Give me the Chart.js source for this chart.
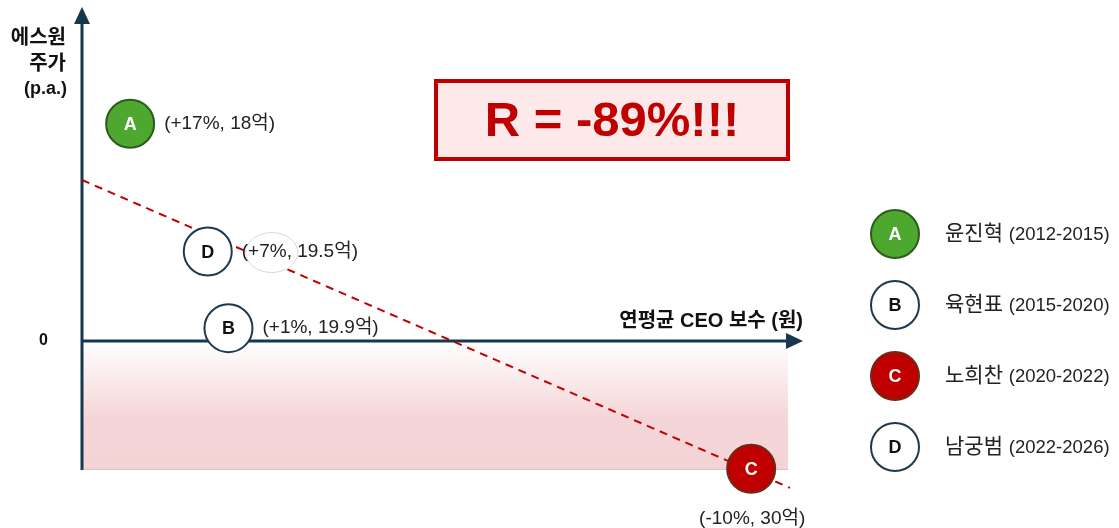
<!DOCTYPE html>
<html>
<head>
<meta charset="utf-8">
<script src="https://cdn.jsdelivr.net/npm/chart.js@4"></script>
<style>
  html, body { margin: 0; padding: 0; background: #fff; }
  #wrap { width: 1119px; height: 528px; }
</style>
</head>
<body>
<div id="wrap"><canvas id="payChart" width="1119" height="528"></canvas></div>
<script>
// CEO pay (억) vs annual stock return (%)
const letters = ["A", "B", "C", "D"];
const ceoNames = ["윤진혁", "육현표", "노희찬", "남궁범"];
const terms = ["(2012-2015)", "(2015-2020)", "(2020-2022)", "(2022-2026)"];
const payValues = [18, 19.9, 30, 19.5];
const returnValues = [17, 1, -10, 7];
const pointLabels = ["(+17%, 18억)", "(+1%, 19.9억)", "(-10%, 30억)", "(+7%, 19.5억)"];
const trendX = [17.07, 30.75];
const trendY = [12.6, -11.5];
const rValue = "R = -89%!!!";

const fillColors = ["#4ea72e", "#ffffff", "#c00000", "#ffffff"];
const edgeColors = ["#2b5c1c", "#1b3a4f", "#6e2a14", "#1b3a4f"];
const letterColors = ["#ffffff", "#111111", "#ffffff", "#111111"];

const NAVY = "#16384d";
const KFONT = "'Liberation Sans', 'Noto Sans CJK KR', sans-serif";

const decor = {
    id: "decor",
    beforeDatasetsDraw(chart) {
        const { ctx, scales: { x, y } } = chart;
        const left = x.getPixelForValue(x.min);
        const zero = y.getPixelForValue(0);
        const bottom = y.getPixelForValue(y.min) - 1;
        const right = x.getPixelForValue(30.71);

        // pink zone below zero
        const grad = ctx.createLinearGradient(0, zero, 0, bottom);
        grad.addColorStop(0, "#ffffff");
        grad.addColorStop(0.6, "#f5d6d8");
        grad.addColorStop(1, "#f4d3d5");
        ctx.save();
        ctx.fillStyle = grad;
        ctx.fillRect(left, zero, right - left, bottom - zero);
        ctx.strokeStyle = "#cfc6c7";
        ctx.lineWidth = 1;
        ctx.beginPath();
        ctx.moveTo(left, bottom + 0.5);
        ctx.lineTo(right, bottom + 0.5);
        ctx.stroke();

        // axes with arrow heads
        ctx.strokeStyle = NAVY;
        ctx.fillStyle = NAVY;
        ctx.lineWidth = 3;
        ctx.beginPath();
        ctx.moveTo(left, bottom + 1);
        ctx.lineTo(left, 20);
        ctx.moveTo(left, zero);
        ctx.lineTo(790, zero);
        ctx.stroke();
        ctx.beginPath();
        ctx.moveTo(left, 7);
        ctx.lineTo(left - 8, 24);
        ctx.lineTo(left + 8, 24);
        ctx.closePath();
        ctx.fill();
        ctx.beginPath();
        ctx.moveTo(803, zero);
        ctx.lineTo(786, zero - 8);
        ctx.lineTo(786, zero + 8);
        ctx.closePath();
        ctx.fill();

        // axis titles
        ctx.fillStyle = "#111";
        ctx.textAlign = "right";
        ctx.textBaseline = "middle";
        ctx.font = "bold 20px " + KFONT;
        ctx.fillText("에스원", 66, 38);
        ctx.fillText("주가", 66, 64);
        ctx.font = "bold 18px " + KFONT;
        ctx.fillText("(p.a.)", 67, 89);
        ctx.font = "bold 16px " + KFONT;
        ctx.fillText("0", 48, 341);
        ctx.font = "bold 20px " + KFONT;
        ctx.fillText("연평균 CEO 보수 (원)", 803, 321);

        // correlation box
        ctx.fillStyle = "#fde9e9";
        ctx.fillRect(436, 81, 352, 78);
        ctx.strokeStyle = "#c00000";
        ctx.lineWidth = 4;
        ctx.strokeRect(436, 81, 352, 78);
        ctx.fillStyle = "#c00000";
        ctx.textAlign = "center";
        ctx.font = "bold 49px 'Liberation Sans', sans-serif";
        ctx.fillText(rValue, 612, 122);
        ctx.restore();
    },
    afterDatasetDraw(chart, args) {
        if (args.index !== 0) return;
        // white callout behind the D label covering the trend line
        const { ctx } = chart;
        const d = chart.getDatasetMeta(1).data[3];
        ctx.save();
        ctx.fillStyle = "#ffffff";
        ctx.strokeStyle = "#d8d8d8";
        ctx.lineWidth = 1;
        ctx.beginPath();
        ctx.ellipse(d.x + 64, d.y + 1, 26, 20, 0, 0, Math.PI * 2);
        ctx.fill();
        ctx.stroke();
        ctx.restore();
    },
    afterDatasetsDraw(chart) {
        const { ctx } = chart;
        const meta = chart.getDatasetMeta(1);
        ctx.save();
        ctx.textBaseline = "middle";
        meta.data.forEach((pt, i) => {
            ctx.fillStyle = letterColors[i];
            ctx.textAlign = "center";
            ctx.font = "bold 18px 'Liberation Sans', sans-serif";
            ctx.fillText(letters[i], pt.x, pt.y + 1);
            ctx.fillStyle = "#222";
            ctx.font = "19px " + KFONT;
            if (letters[i] === "C") {
                ctx.fillText(pointLabels[i], pt.x + 1, pt.y + 50);
            } else {
                ctx.textAlign = "left";
                ctx.fillText(pointLabels[i], pt.x + 34, pt.y);
            }
        });

        // legend
        letters.forEach((l, i) => {
            const cy = 234 + i * 71;
            ctx.beginPath();
            ctx.arc(895, cy, 24, 0, Math.PI * 2);
            ctx.fillStyle = fillColors[i];
            ctx.fill();
            ctx.lineWidth = 2;
            ctx.strokeStyle = edgeColors[i];
            ctx.stroke();
            ctx.fillStyle = letterColors[i];
            ctx.textAlign = "center";
            ctx.font = "bold 18px 'Liberation Sans', sans-serif";
            ctx.fillText(l, 895, cy + 1);
            ctx.textAlign = "left";
            ctx.fillStyle = "#222";
            ctx.font = "21px " + KFONT;
            ctx.fillText(ceoNames[i], 945, cy);
            const w = ctx.measureText(ceoNames[i] + " ").width;
            ctx.font = "18.5px " + KFONT;
            ctx.fillText(terms[i], 945 + w, cy + 1);
        });
        ctx.restore();
    }
};

new Chart(document.getElementById("payChart").getContext("2d"), {
    type: "scatter",
    data: {
        datasets: [{
            type: "line",
            label: "trend",
            data: trendX.map((v, i) => ({ x: v, y: trendY[i] })),
            borderColor: "#c00000",
            borderWidth: 2,
            borderDash: [8, 6],
            pointRadius: 0,
            fill: false,
            clip: false,
            order: 2
        }, {
            label: "CEO",
            data: payValues.map((v, i) => ({ x: v, y: returnValues[i] })),
            backgroundColor: fillColors,
            borderColor: edgeColors,
            borderWidth: 2,
            pointRadius: 24,
            pointHoverRadius: 24,
            clip: false,
            order: 1
        }]
    },
    options: {
        responsive: false,
        animation: false,
        events: [],
        layout: { padding: { left: 82, right: 329, top: 30, bottom: 58 } },
        plugins: { legend: { display: false }, tooltip: { enabled: false } },
        scales: {
            x: { type: "linear", min: 17.07, max: 30.75, display: false },
            y: { type: "linear", min: -10.1, max: 24.34, display: false }
        }
    },
    plugins: [decor]
});
</script>
</body>
</html>
